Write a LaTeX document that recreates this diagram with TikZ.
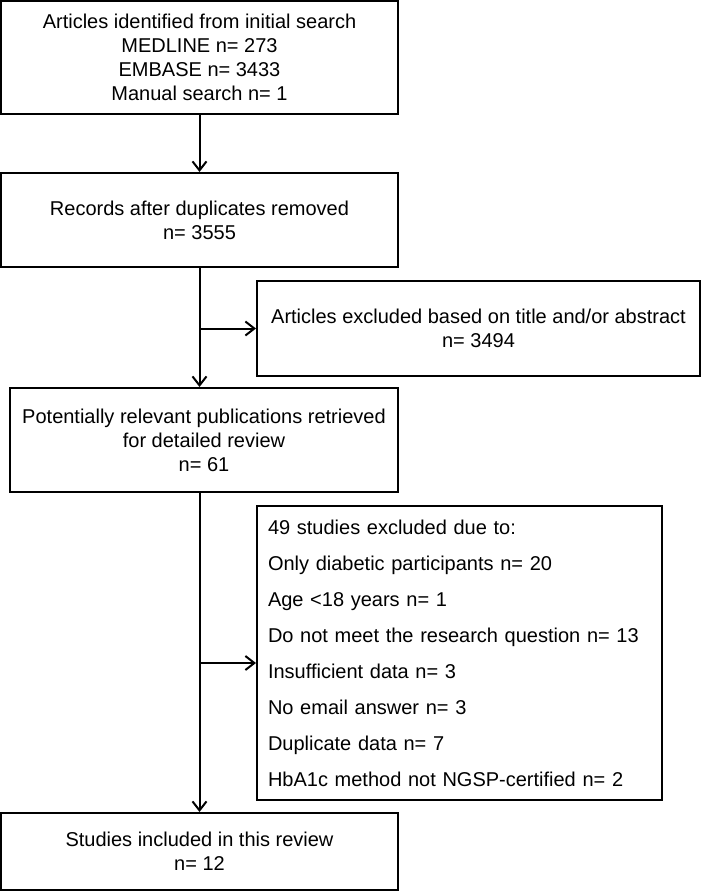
\documentclass[tikz,border=0pt]{standalone}
\usepackage{fontspec}
\setmainfont{Liberation Sans}
\usetikzlibrary{arrows.meta}
\begin{document}
\begin{tikzpicture}[x=1pt,y=-1pt,>={Straight Barb[length=9pt,width=14pt]},line width=2pt,
	box/.style={draw,align=center,inner sep=0pt,font=\fontsize{20}{24}\selectfont},
	listbox/.style={draw,align=left,text width=383pt,inner xsep=11pt,inner ysep=0pt,font=\fontsize{20}{36}\selectfont}]
	\useasboundingbox (0,0) rectangle (702,891);
	\node[box,minimum width=397pt,minimum height=113pt] (search) at (199.5,57.5) {Articles identified from initial search\\MEDLINE n= 273\\EMBASE n= 3433\\Manual search n= 1};
	\node[box,minimum width=397pt,minimum height=94pt] (records) at (199.5,220) {Records after duplicates removed\\n= 3555};
	\node[box,minimum width=443pt,minimum height=95pt] (abstract) at (478.5,328.5) {Articles excluded based on title and/or abstract\\n= 3494};
	\node[box,minimum width=388pt,minimum height=104pt] (relevant) at (204,440) {Potentially relevant publications retrieved\\for detailed review\\n= 61};
	\node[listbox,minimum width=405pt,minimum height=294pt] (excluded) at (459.5,653) {49 studies excluded due to:\\Only diabetic participants n= 20\\Age <18 years n= 1\\Do not meet the research question n= 13\\Insufficient data n= 3\\No email answer n= 3\\Duplicate data n= 7\\HbA1c method not NGSP-certified n= 2};
	\node[box,minimum width=397pt,minimum height=77pt] (included) at (199.5,851.5) {Studies included in this review\\n= 12};
	\coordinate (split) at (199.5,663);
	\draw[->] (search) -- (records);
	\draw[->] (records.south) -- (records.south |- relevant.north);
	\draw[->] (records.south |- abstract.west) -- (abstract.west);
	\draw[->] (records.south |- relevant.south) -- (included.north);
	\draw[->] (split) -- (split -| excluded.west);
\end{tikzpicture}
\end{document}
